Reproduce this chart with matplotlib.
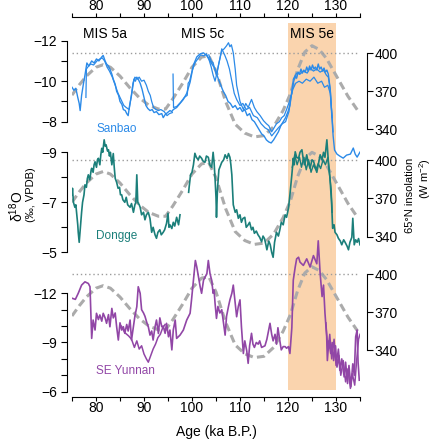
import matplotlib
matplotlib.use('Agg')
import matplotlib.pyplot as plt
import numpy as np

plt.rcParams['font.family'] = ['Liberation Sans', 'DejaVu Sans']
plt.rcParams['mathtext.fontset'] = 'custom'
plt.rcParams['mathtext.rm'] = 'Liberation Sans'
plt.rcParams['mathtext.it'] = 'Liberation Sans:italic'
plt.rcParams['axes.linewidth'] = 0.8


# Sanbao cave records (age in ka B.P., d18O in permil)

sanbao_a_age = [75.0, 75.4, 75.8, 76.2, 76.5, 76.7, 77.0, 77.4, 77.7, 78.1,
                78.5, 79.1, 79.6, 80.1, 80.6, 81.2, 81.5, 81.9, 82.2, 82.6,
                82.9, 83.3, 83.6, 84.0, 84.3, 84.7, 85.0, 85.4, 85.7, 86.1,
                86.4, 86.7, 87.0, 87.4, 87.9, 88.2, 88.5, 88.9, 89.2, 89.6,
                89.9, 90.4, 90.8, 91.25, 91.7, 92.1, 92.6, 93.1, 93.7, 94.0,
                94.4, 94.9, 95.4, 95.8, 96.1, 96.8, 97.5, 98.2, 98.9, 99.6,
                100.3, 101.0, 101.7, 102.4, 103.1, 103.75, 104.3, 104.8, 105.5, 106.0,
                106.5, 107.0, 107.5, 108.0, 108.5, 109.0, 109.5, 110.0, 110.5, 111.0,
                111.5, 112.0, 112.5, 113.0, 113.5, 114.0, 114.5, 115.0, 115.5, 116.0,
                116.5, 117.0, 117.5, 118.0, 118.5, 119.0, 119.5, 120.0, 120.4, 120.8,
                121.2, 121.5, 121.8, 122.1, 122.4, 122.7, 123.0, 123.3, 123.6, 123.9,
                124.2, 124.5, 124.8, 125.1, 125.4, 125.7, 126.0, 126.3, 126.6, 126.9,
                127.2, 127.5, 127.8, 128.1, 128.4, 128.8, 129.1, 129.4, 129.7, 130.2,
                130.8, 131.5, 132.2, 133.0, 133.6, 134.0, 134.4, 135.0]
sanbao_a_val = [-9.7, -9.55, -9.65, -9.2, -8.9, -8.55, -9.3, -9.9, -10.3, -10.9,
                -10.75, -11.0, -10.9, -11.1, -11.0, -11.2, -11.27, -11.0, -10.85, -10.75,
                -10.6, -10.35, -10.1, -9.85, -9.5, -9.3, -9.0, -8.85, -8.6, -8.55,
                -8.4, -8.3, -8.8, -9.3, -10.1, -10.0, -10.2, -10.05, -9.9, -9.6,
                -9.3, -8.8, -8.65, -8.55, -8.6, -8.45, -8.5, -8.35, -8.4, -8.2,
                -8.35, -8.45, -8.55, -8.5, -8.6, -8.7, -8.9, -9.1, -9.4, -9.95,
                -10.8, -11.2, -11.35, -11.4, -11.25, -11.0, -10.8, -10.6, -10.1, -9.8,
                -9.5, -9.3, -9.0, -8.9, -8.7, -8.8, -8.6, -8.7, -8.5, -8.6,
                -8.3, -8.4, -8.1, -8.0, -7.8, -7.6, -7.4, -7.3, -7.1, -7.0,
                -6.95, -7.1, -7.3, -7.5, -7.8, -8.0, -8.2, -8.5, -8.8, -9.5,
                -10.0, -10.25, -10.15, -10.45, -10.35, -10.6, -10.4, -10.55, -10.45, -10.7,
                -10.5, -10.75, -10.55, -10.8, -10.6, -10.7, -10.55, -10.85, -10.6, -10.7,
                -10.5, -10.65, -10.45, -10.55, -10.35, -9.6, -8.4, -7.3, -6.6, -6.4,
                -6.3, -6.2, -6.35, -6.4, -6.7, -6.4, -6.25, -6.5]

sanbao_b_age = [96.05, 96.15, 96.8, 97.6, 98.4, 99.0, 99.2, 99.5, 100.0, 100.6,
                101.2, 101.8, 102.4, 103.0, 103.5, 104.0, 104.4, 104.8, 105.2, 105.6,
                106.2, 106.7, 107.2, 107.6, 107.9, 108.2, 108.6, 109.0, 109.3, 110.0,
                110.7, 111.2, 111.7, 112.4, 113.0, 113.5, 114.2, 114.9, 115.5, 116.0,
                116.6, 117.1, 117.6, 118.2, 118.7, 119.2, 119.7, 120.3, 120.8, 121.1,
                121.8, 122.5, 123.2, 124.0, 124.6, 125.3, 126.0, 126.7, 127.4, 128.0,
                128.4, 128.8, 129.1, 129.4]
sanbao_b_val = [-10.35, -8.7, -8.75, -8.95, -9.2, -9.3, -9.9, -10.0, -10.5, -10.9,
                -11.1, -11.3, -11.25, -11.35, -11.1, -10.7, -10.3, -10.0, -10.4, -10.9,
                -11.5, -11.6, -11.75, -11.9, -11.7, -11.8, -11.4, -10.6, -9.8, -9.0,
                -8.6, -8.9, -8.7, -9.1, -8.7, -8.5, -8.3, -8.05, -7.9, -7.8,
                -7.5, -7.7, -7.9, -8.0, -8.2, -8.3, -8.6, -9.0, -9.4, -10.1,
                -10.4, -10.35, -10.5, -10.4, -10.65, -10.5, -10.6, -10.45, -10.55, -10.3,
                -10.2, -9.6, -8.5, -7.5]

sanbao_c_age = [103.5, 104.0, 104.4, 105.1, 105.8, 106.2, 106.8, 107.3, 107.8, 108.3,
                108.8, 109.3, 110.0, 110.6, 111.3, 112.0, 112.8, 113.6, 114.4, 115.2,
                115.9, 116.6, 117.3, 118.0, 118.8, 119.5, 120.2, 120.6, 121.0, 121.6,
                122.3, 123.0, 123.8, 124.6, 125.4, 126.2, 127.0, 127.6, 128.3, 128.8,
                129.2]
sanbao_c_val = [-11.3, -11.0, -10.9, -10.3, -11.1, -11.6, -11.3, -11.0, -10.6, -10.0,
                -9.4, -9.1, -8.8, -8.9, -8.6, -8.7, -8.3, -8.2, -7.9, -7.7,
                -7.6, -7.3, -7.5, -7.7, -7.9, -8.0, -8.5, -9.2, -9.6, -9.9,
                -10.0, -9.9, -10.1, -10.0, -10.2, -9.9, -10.0, -9.7, -9.8, -9.4,
                -8.2]

sanbao_d_age = [77.9, 78.0, 78.3, 78.9, 79.5, 80.2, 80.8, 81.3, 81.8, 82.3,
                82.8, 83.4, 84.0, 84.6, 85.2, 85.8, 86.3, 86.9, 87.3, 87.7,
                88.1, 88.6, 89.0, 89.5, 90.0, 90.5, 90.9, 91.3, 91.6, 92.0,
                92.5, 93.0, 93.5, 94.2, 94.8, 95.3, 95.9]
sanbao_d_val = [-9.2, -10.6, -10.7, -10.85, -10.8, -11.0, -11.1, -11.15, -11.0, -10.7,
                -10.5, -10.2, -9.8, -9.4, -9.1, -8.8, -8.7, -8.6, -9.2, -9.9,
                -10.2, -10.1, -10.2, -10.0, -10.05, -9.8, -9.5, -9.3, -9.0, -8.7,
                -8.6, -8.55, -8.6, -8.5, -8.3, -8.4, -8.45]


# Dongge cave record

dongge_a_age = [75.0, 75.1, 75.3, 75.6, 75.8, 76.0, 76.2, 76.3, 76.5, 76.7,
                76.8, 77.0, 77.2, 77.5, 77.7, 78.0, 78.2, 78.4, 78.7, 79.0,
                79.1, 79.4, 79.6, 79.8, 80.1, 80.3, 80.5, 80.8, 81.0, 81.2,
                81.4, 81.7, 81.9, 82.1, 82.4, 82.6, 82.8, 83.0, 83.3, 83.6,
                83.8, 84.0, 84.3, 84.6, 84.9, 85.1, 85.35, 85.6, 86.0, 86.3,
                86.6, 87.1, 87.4, 87.8, 88.1, 88.3, 88.5, 88.7, 89.0, 89.2,
                89.5, 89.9, 90.2, 90.5, 90.9, 91.25, 91.6, 91.9, 92.3, 92.6,
                92.9, 93.3, 93.6, 94.0, 94.3, 94.7, 95.0, 95.2, 95.4, 95.8,
                96.1, 96.4, 96.8, 97.2, 97.5, 98.4, 99.3, 99.4, 99.7, 100.0,
                100.3, 100.6, 100.9, 101.3, 101.6, 102.0, 102.3, 102.7, 103.0, 103.4,
                103.7, 104.1, 104.4, 104.6, 104.8, 105.0, 105.1, 105.3, 105.6, 106.2,
                106.6, 106.9, 107.3, 107.6, 107.9, 108.1, 108.3, 108.6, 109.0, 109.3,
                109.65, 110.0, 110.3, 110.6, 111.0, 111.3, 111.7, 112.0, 112.4, 112.7,
                113.0, 113.4, 113.75, 114.1, 114.5, 114.8, 115.1, 115.4, 115.6, 116.0,
                116.3, 116.6, 116.9, 117.2, 117.6, 118.0, 118.3, 118.6, 119.0, 119.4,
                119.7, 120.1, 120.4, 120.8, 121.1, 121.3, 121.5, 121.8, 122.2, 122.5,
                122.9, 123.2, 123.5, 123.9, 124.2, 124.6, 125.0, 125.3, 125.7, 126.0,
                126.4, 126.7, 127.1, 127.4, 127.7, 128.1, 128.4, 128.75, 129.1, 129.3,
                129.6, 129.8, 130.2, 130.5, 130.9, 131.2, 131.6, 131.9, 132.3, 132.6,
                132.9, 133.3, 133.5, 133.8, 134.1, 134.4, 134.7, 135.0]
dongge_a_val = [-7.3, -7.56, -7.0, -6.8, -6.9, -6.5, -6.1, -5.8, -5.4, -5.9,
                -6.2, -6.6, -7.0, -7.3, -7.7, -7.6, -7.95, -8.1, -7.9, -8.3,
                -8.36, -8.2, -8.5, -8.62, -8.4, -8.7, -8.76, -8.5, -8.9, -9.16,
                -9.0, -9.5, -9.25, -9.3, -9.05, -9.1, -8.85, -9.0, -8.5, -8.95,
                -8.4, -7.96, -7.8, -7.56, -7.6, -7.3, -7.3, -7.1, -7.0, -7.2,
                -6.9, -6.8, -6.95, -6.6, -6.9, -7.0, -8.1, -7.0, -6.9, -6.8,
                -6.5, -6.6, -6.3, -6.5, -6.6, -6.35, -5.8, -6.0, -5.7, -5.56,
                -5.8, -5.9, -5.7, -5.8, -5.9, -6.16, -6.56, -6.0, -6.1, -5.95,
                -6.2, -6.05, -6.4, -6.1, -6.5, np.nan, -7.4, -7.6, -8.1, -8.2,
                -8.5, -8.96, -8.8, -8.7, -8.85, -8.76, -8.65, -8.6, -8.85, -8.8,
                -8.5, -8.4, -9.0, -8.6, -7.96, -7.2, -6.4, -7.5, -8.3, -8.6,
                -8.7, -8.9, -8.75, -8.95, -8.8, -8.5, -8.1, -6.9, -6.6, -6.7,
                -6.36, -6.5, -6.2, -6.35, -6.4, -6.0, -6.1, -6.2, -5.9, -6.0,
                -5.76, -5.85, -5.7, -5.6, -5.42, -5.65, -5.55, -5.3, -5.1, -5.45,
                -5.3, -5.0, -4.8, -5.4, -5.8, -5.65, -5.9, -6.2, -6.1, -6.5,
                -6.4, -6.76, -7.3, -8.1, -8.76, -8.5, -9.02, -8.8, -8.76, -9.0,
                -9.1, -8.7, -8.5, -8.9, -8.6, -8.36, -8.7, -8.65, -8.4, -8.2,
                -8.6, -8.9, -8.7, -9.0, -8.8, -9.5, -8.65, -7.96, -6.9, -5.96,
                -6.1, -5.8, -5.7, -5.56, -5.45, -5.3, -5.5, -5.4, -5.25, -5.1,
                -5.4, -5.6, -6.36, -5.3, -5.5, -5.4, -5.55, -5.3]

dongge_b_age = [120.9, 121.4, 121.9, 122.4, 122.8, 123.3, 123.8, 124.3, 124.8, 125.3,
                125.8, 126.3, 126.8, 127.3, 127.8, 128.3, 128.6, 129.0, 129.2]
dongge_b_val = [-8.4, -8.9, -8.5, -8.8, -8.4, -8.8, -8.3, -8.7, -8.2, -8.5,
                -8.3, -8.55, -8.35, -8.7, -8.5, -8.8, -8.2, -7.5, -6.6]


# SE Yunnan records

yunnan_a_age = [75.0, 75.7, 76.3, 77.0, 77.7, 78.4, 78.75, 79.1, 79.4, 79.8,
                80.1, 80.5, 80.8, 81.2, 81.5, 81.9, 82.2, 82.6, 82.9, 83.3,
                83.6, 84.0, 84.3, 84.65, 85.0, 85.35, 85.7, 86.0, 86.4, 86.7,
                87.1, 87.4, 87.8, 88.1, 88.5, 88.8, 89.2, 89.5, 89.9, 90.2,
                90.6, 90.9, 91.25, 91.6, 91.9, 92.3, 92.6, 93.0, 93.3, 93.7,
                94.0, 94.4, 94.7, 95.1, 95.4, 95.8, 96.1, 96.5, 96.8, 97.5,
                98.2, 98.9, 99.6, 99.9, 100.3, 100.7, 101.0, 101.7, 102.0, 102.4,
                103.1, 103.4, 103.75, 104.1, 104.4, 104.6, 104.8, 105.1, 105.4, 105.8,
                106.2, 106.9, 107.2, 107.6, 107.9, 108.3, 108.6, 109.0, 109.3, 109.65,
                110.0, 110.3, 110.7, 111.0, 111.4, 111.7, 112.0, 112.4, 112.7, 113.0,
                113.4, 113.8, 114.1, 114.5, 115.2, 115.6, 116.25, 116.6, 116.9, 117.3,
                117.6, 117.9, 118.3, 118.6, 119.0, 119.4, 119.7, 120.1, 120.4, 120.8,
                121.1, 121.5, 121.8, 122.2, 122.5, 123.2, 123.9, 124.6, 125.3, 126.0,
                126.3, 126.7, 127.1, 127.4, 127.7, 128.06, 128.2, 128.5, 128.9, 129.2,
                129.5, 129.9, 130.2, 130.6, 130.8, 131.2, 131.7, 132.0, 132.4, 132.7,
                133.1, 133.5, 133.8, 134.1, 134.4, 134.6, 134.85]
yunnan_a_val = [-11.7, -11.63, -12.0, -12.5, -12.7, -12.6, -12.4, -9.25, -10.37, -9.76,
                -10.78, -10.4, -10.68, -10.3, -10.78, -10.5, -10.17, -10.7, -9.96, -11.08,
                -10.5, -10.8, -9.96, -9.15, -10.2, -9.76, -9.96, -9.56, -10.1, -9.7,
                -10.37, -9.15, -9.96, -10.6, -11.18, -12.4, -12.0, -11.0, -10.8, -10.6,
                -10.2, -9.96, -9.45, -9.7, -9.15, -9.96, -10.37, -9.55, -10.5, -9.96,
                -10.0, -9.56, -10.17, -9.35, -9.76, -8.55, -9.76, -10.37, -9.25, -9.45,
                -9.76, -10.37, -10.78, -11.6, -12.8, -14.0, -13.6, -12.4, -12.0, -12.8,
                -13.2, -14.0, -13.2, -12.8, -12.0, -12.2, -11.4, -10.47, -11.2, -10.8,
                -11.0, -9.45, -10.6, -11.2, -11.6, -12.0, -12.5, -11.4, -10.57, -11.2,
                -11.6, -9.96, -8.33, -9.1, -8.5, -7.73, -8.8, -9.56, -8.9, -8.7,
                -9.0, -8.9, -9.1, -8.7, -8.8, -9.2, -10.17, -9.5, -9.1, -9.5,
                -8.9, -9.9, -9.1, -8.55, -8.75, -8.75, -8.65, -8.75, -8.33, -9.9,
                -12.8, -13.6, -14.1, -14.2, -13.9, -13.7, -14.1, -13.6, -14.3, -13.8,
                -15.2, -13.2, -11.8, -12.5, -10.8, -9.35, -7.9, -9.1, -8.33, -9.0,
                -7.9, -8.8, -7.5, -8.2, -7.3, -8.0, -6.9, -7.8, -6.5, -7.6,
                -6.3, -7.7, -7.0, -9.35, -9.76, -7.8, -6.7]

yunnan_b_age = [85.3, 86.0, 86.8, 87.4, 88.0, 88.5, 89.0, 89.5, 90.0, 90.5,
                90.9, 91.4, 91.9, 92.4, 92.9, 93.4, 93.9, 94.4]
yunnan_b_val = [-10.0, -9.6, -9.4, -9.2, -8.7, -9.1, -8.6, -8.8, -8.3, -8.0,
                -7.8, -8.2, -8.6, -8.9, -9.3, -9.5, -9.9, -10.1]

yunnan_c_age = [127.9, 128.3, 128.7, 129.1, 129.6, 130.0, 130.5, 131.0, 131.5, 132.0,
                132.5, 133.0, 133.4, 133.9, 134.3, 134.7, 135.0]
yunnan_c_val = [-10.2, -8.5, -9.5, -8.0, -9.2, -7.6, -8.6, -7.0, -7.9, -6.6,
                -7.4, -6.2, -7.1, -6.4, -7.9, -9.2, -9.5]


# 65N summer insolation (W m-2)

ins_age = [75, 76.5, 78, 80, 81.5, 83, 85, 87, 89, 91,
           93, 94.5, 96, 98, 100, 102, 103.5, 105, 107, 109,
           111, 113, 115, 117, 119, 120.5, 122, 123.5, 125, 126.5,
           128, 129.5, 131, 132.5, 134.5]
ins_val = [367, 375, 382, 389, 391, 389, 382, 373, 365, 359,
           356, 356, 364, 376, 389, 397, 398, 386, 362, 344,
           337, 334, 335, 342, 355, 368, 387, 401, 406, 403,
           396, 386, 376, 366, 355]
ins_ticks = [340, 370, 400]

mis_labels = ['MIS 5a', 'MIS 5c', 'MIS 5e']
mis_age = [81.8, 102.3, 125.0]


# Colours

sanbao_color = '#2B8AE8'
dongge_color = '#1B7F7A'
yunnan_color = '#9146A6'
ins_color = '#ABABAB'
dot_color = '#9C9C9C'
shade_color = '#FAD4AE'


W, H = 434, 440
fig = plt.figure(figsize=(W / 100, H / 100), dpi=100)

# Plot frame in pixels: x from 75 to 135 ka, top and bottom axis rows
X0, X1, TOP, BOT = 72, 360, 17, 397
rect = [X0 / W, 1 - BOT / H, (X1 - X0) / W, (BOT - TOP) / H]


def span(v1, p1, v2, p2):
    # y limits that put value v1 on pixel row p1 and v2 on row p2
    k = (v2 - v1) / (p2 - p1)
    return v1 + (BOT - p1) * k, v1 + (TOP - p1) * k


def frac(p):
    return (BOT - p) / (BOT - TOP)


# Shared age axis (top and bottom) with the MIS 5e band:

ax = fig.add_axes(rect, zorder=0)
ax.set_xlim(75, 135)
ax.set_ylim(0, 1)
ax.spines['left'].set_visible(False)
ax.spines['right'].set_visible(False)
ax.set_yticks([])
ax.set_xticks(range(80, 131, 10))
ax.set_xticks(range(75, 136, 5), minor=True)
ax.tick_params(axis='x', which='both', top=True, bottom=True, labeltop=True,
               labelbottom=True, length=3, width=0.8, labelsize=10, pad=1)
ax.tick_params(axis='x', which='major', labeltop=True, pad=0)
ax.axvspan(120, 130, ymin=frac(390), ymax=frac(23), color=shade_color, lw=0)

for label, age in zip(mis_labels, mis_age):
    ax.text(age, frac(34), label, ha='center', va='center', fontsize=10)

ax.text(80.1, frac(128.5), 'Sanbao', color=sanbao_color, fontsize=8.5, va='center')
ax.text(80.1, frac(235.5), 'Dongge', color=dongge_color, fontsize=8.5, va='center')
ax.text(80.1, frac(371.5), 'SE Yunnan', color=yunnan_color, fontsize=8.5, va='center')


# One panel = left d18O axis + right insolation axis:

def make_panel(left_cal, left_major, left_minor, right_cal):
    a = fig.add_axes(rect, zorder=2)
    a.patch.set_visible(False)
    a.set_xlim(75, 135)
    a.set_ylim(*span(*left_cal))
    a.xaxis.set_visible(False)
    for s in ['top', 'right', 'bottom']:
        a.spines[s].set_visible(False)
    a.spines['left'].set_position(('outward', 3.6))
    a.spines['left'].set_bounds(min(left_major), max(left_major))
    a.set_yticks(left_major)
    a.set_yticks(left_minor, minor=True)
    a.tick_params(axis='y', which='both', length=4.5, width=0.8, labelsize=10, pad=2.5)

    r = a.twinx()
    r.set_zorder(1)
    r.set_ylim(*span(*right_cal))
    for s in ['top', 'left', 'bottom']:
        r.spines[s].set_visible(False)
    r.spines['right'].set_position(('outward', 5))
    r.spines['right'].set_bounds(min(ins_ticks), max(ins_ticks))
    r.set_yticks(ins_ticks)
    r.tick_params(axis='y', length=4, width=0.8, labelsize=10, pad=1.5)
    r.plot(ins_age, ins_val, color=ins_color, lw=2.2, ls=(0, (2.6, 1.4)))
    r.hlines(400, 75, 135, colors=dot_color, linestyles=(0, (1, 2)), lw=1.0)
    return a


ax1 = make_panel((-12, 40.7, -8, 121.7), [-12, -10, -8], [-11, -9], (400, 53.3, 340, 129.3))
ax2 = make_panel((-9, 152.3, -5, 252.3), [-9, -7, -5], [-8, -6], (400, 160, 340, 236.7))
ax3 = make_panel((-12, 293.3, -6, 391.7), [-12, -9, -6], [-11, -10, -8, -7], (400, 274.3, 340, 350))

ax1.plot(sanbao_d_age, sanbao_d_val, color=sanbao_color, lw=0.9)
ax1.plot(sanbao_c_age, sanbao_c_val, color=sanbao_color, lw=0.9)
ax1.plot(sanbao_b_age, sanbao_b_val, color=sanbao_color, lw=0.9)
ax1.plot(sanbao_a_age, sanbao_a_val, color=sanbao_color, lw=1.0)

ax2.plot(dongge_b_age, dongge_b_val, color=dongge_color, lw=1.0)
ax2.plot(dongge_a_age, dongge_a_val, color=dongge_color, lw=1.2)

ax3.plot(yunnan_b_age, yunnan_b_val, color=yunnan_color, lw=1.1)
ax3.plot(yunnan_c_age, yunnan_c_val, color=yunnan_color, lw=1.1)
ax3.plot(yunnan_a_age, yunnan_a_val, color=yunnan_color, lw=1.2)


# Axis titles:

fig.text(16.5 / W, 1 - 222 / H, 'δ$^{18}$O', rotation=90, ha='center', va='bottom', fontsize=10)
fig.text(30.5 / W, 1 - 222 / H, '(‰, VPDB)', rotation=90, ha='center', va='bottom', fontsize=8)
fig.text(410 / W, 1 - 158 / H, '65°N insolation', rotation=90, ha='center', va='top', fontsize=8)
fig.text(425 / W, 1 - 158 / H, '(W m$^{-2}$)', rotation=90, ha='center', va='top', fontsize=8)
fig.text(216 / W, 1 - 432 / H, 'Age (ka B.P.)', ha='center', va='center', fontsize=10)

fig.savefig('out.png', dpi=100)
